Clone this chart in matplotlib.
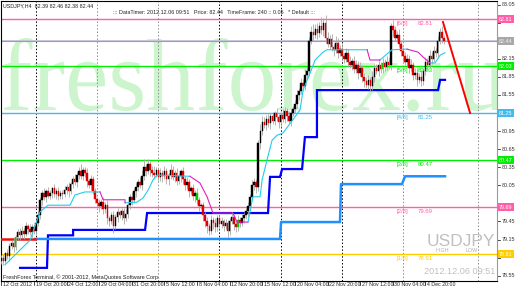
import matplotlib
matplotlib.use("Agg")
import matplotlib.pyplot as plt
import numpy as np
from matplotlib.textpath import TextPath
from matplotlib.patches import PathPatch
from matplotlib.font_manager import FontProperties
from matplotlib.transforms import Affine2D, blended_transform_factory

W, H = 519, 289
NARROW = ["Liberation Sans Narrow", "DejaVu Sans Condensed", "Liberation Sans"]

# ---- data (H4 USDJPY, 17 Oct - 6 Dec 2012) ----
FIRST_OPEN = 78.80
CLOSE = [
    78.85, 78.80, 78.92, 78.88, 79.05, 79.10, 79.02, 79.20, 79.28, 79.22,
    79.30, 79.25, 79.38, 79.32, 79.28, 79.35, 79.30, 79.42, 79.55, 79.80,
    79.92, 79.85, 79.95, 79.88, 79.93, 80.00, 79.90, 79.96, 79.87, 79.93,
    79.90, 79.97, 80.02, 79.95, 80.08, 80.15, 80.10, 80.22, 80.28, 80.20,
    80.30, 80.25, 80.12, 80.05, 80.15, 79.95, 79.82, 79.75, 79.70, 79.78,
    79.65, 79.72, 79.50, 79.45, 79.55, 79.38, 79.52, 79.60, 79.55, 79.62,
    79.50, 79.58, 79.72, 79.85, 79.80, 79.95, 80.02, 80.10, 80.05, 80.20,
    80.35, 80.28, 80.40, 80.30, 80.25, 80.22, 80.30, 80.18, 80.25, 80.20,
    80.28, 80.15, 80.22, 80.30, 80.18, 80.25, 80.12, 80.20, 80.28, 80.15,
    80.05, 80.10, 79.95, 80.00, 79.88, 79.92, 79.80, 79.70, 79.72, 79.55,
    79.45, 79.38, 79.30, 79.48, 79.42, 79.35, 79.50, 79.40, 79.45, 79.38,
    79.42, 79.30, 79.45, 79.52, 79.40, 79.35, 79.48, 79.42, 79.50, 79.55,
    79.62, 79.70, 79.85, 80.05, 80.10, 80.02, 80.75, 80.95, 81.10, 81.05,
    81.15, 81.08, 81.20, 81.12, 81.25, 81.18, 81.10, 81.22, 81.15, 81.28,
    81.20, 81.12, 81.25, 81.32, 81.40, 81.55, 81.62, 81.75, 81.70, 81.88,
    81.95, 82.45, 82.60, 82.55, 82.65, 82.58, 82.70, 82.62, 82.75, 82.50,
    82.40, 82.48, 82.35, 82.30, 82.42, 82.25, 82.32, 82.20, 82.15, 82.25,
    82.10, 82.05, 82.12, 81.98, 82.05, 81.92, 82.00, 81.85, 81.78, 81.72,
    81.80, 81.70, 81.85, 82.00, 81.95, 82.05, 81.98, 82.08, 82.02, 82.10,
    82.05, 82.70, 82.62, 82.50, 82.55, 82.40, 82.28, 82.20, 82.10, 82.15,
    82.00, 82.05, 81.88, 81.92, 81.80, 81.85, 81.78, 81.95, 82.10, 82.05,
    82.20, 82.15, 82.28, 82.25, 82.45, 82.60, 82.50, 82.44,
]
# wick lengths above / below the body, in pips (0.01)
UP_WICK = [
    4, 6, 3, 8, 5, 4, 7, 3, 5, 6,  8, 4, 6, 3, 9, 5, 4, 6, 8, 5,
    6, 9, 4, 7, 5, 3, 8, 4, 6, 5,  4, 7, 5, 8, 3, 6, 9, 5, 7, 12,
    6, 5, 8, 4, 7, 5, 6, 3, 8, 4,  7, 5, 9, 4, 6, 8, 5, 7, 4, 6,
    5, 8, 4, 6, 9, 5, 7, 6, 8, 10, 14, 6, 9, 5, 7, 12, 6, 4, 8, 5,
    9, 6, 4, 10, 7, 5, 8, 6, 4, 7, 5, 8, 6, 4, 7, 5, 9, 6, 4, 5,
    6, 8, 5, 7, 4, 9, 5, 6, 8, 4,  7, 5, 6, 9, 4, 6, 8, 5, 7, 6,
    5, 8, 6, 9, 7, 5, 6, 12, 10, 8, 6, 9, 5, 7, 4, 8, 6, 5, 9, 7,
    5, 8, 6, 4, 7, 9, 5, 8, 6, 10, 8, 6, 9, 12, 7, 10, 6, 14, 8, 12,
    9, 6, 8, 5, 10, 7, 6, 9, 5, 8, 6, 9, 5, 7, 8, 6, 9, 5, 7, 6,
    8, 5, 9, 6, 7, 10, 5, 8, 6, 9, 7, 5, 10, 8, 6, 9, 5, 7, 6, 8,
    6, 9, 5, 7, 8, 6, 9, 5, 8, 7,  9, 6, 8, 5, 7, 6, 9, 4,
]
DN_WICK = [
    5, 8, 4, 6, 9, 5, 7, 4, 6, 8,  5, 9, 4, 7, 6, 10, 5, 8, 4, 6,
    7, 5, 8, 4, 6, 9, 5, 7, 6, 4,  8, 5, 6, 9, 4, 7, 5, 8, 6, 5,
    7, 6, 9, 5, 8, 4, 7, 6, 9, 5,  8, 6, 10, 7, 5, 12, 6, 8, 5, 7,
    9, 5, 7, 6, 8, 4, 9, 6, 5, 7,  6, 8, 5, 9, 7, 6, 4, 8, 6, 9,
    5, 7, 9, 6, 4, 8, 6, 5, 9, 7,  8, 6, 9, 5, 7, 10, 6, 8, 5, 9,
    10, 12, 8, 6, 9, 7, 5, 8, 6, 9, 6, 10, 7, 5, 9, 8, 6, 7, 5, 8,
    6, 9, 7, 5, 8, 10, 6, 9, 7, 5, 8, 6, 9, 5, 7, 6, 10, 8, 5, 7,
    9, 6, 8, 5, 7, 6, 9, 5, 8, 6,  7, 9, 6, 8, 5, 10, 7, 6, 9, 8,
    6, 9, 7, 10, 5, 8, 6, 9, 7, 6, 8, 5, 9, 7, 6, 10, 5, 8, 9, 6,
    7, 9, 6, 8, 5, 9, 6, 7, 8, 5,  6, 8, 9, 5, 7, 6, 9, 8, 5, 7,
    8, 6, 9, 7, 10, 5, 8, 6, 7, 9, 6, 8, 5, 7, 9, 6, 8, 5,
]
GREEN_BARS = [7, 96, 116, 187]

# trailing-stop line: (bar, price) vertices, up-trend (cyan) / down-trend (magenta)
TRAIL_UP = [
    [(1.8, 78.73), (14.1, 79.14), (19.0, 79.61), (22.9, 79.72), (33.7, 79.72),
     (36.1, 79.89), (41.0, 79.94), (48.4, 79.94)],
    [(60.7, 79.76), (66.5, 79.77), (69.5, 79.84), (72.0, 79.97), (74.4, 80.14),
     (76.4, 80.22), (92.5, 80.20)],
    [(121.0, 79.44), (123.4, 79.86), (126.9, 79.86), (127.9, 80.14), (130.3, 80.47),
     (132.8, 80.80), (135.2, 80.88), (138.2, 80.92), (146.5, 81.30), (148.0, 81.63),
     (151.4, 81.91), (153.9, 82.13), (157.8, 82.26), (159.7, 82.30), (179.4, 82.30)],
    [(185.7, 82.13), (191.6, 82.30), (199.0, 82.31)],
    [(210.3, 82.08), (212.7, 82.08), (215.2, 82.21), (217.6, 82.25)],
]
TRAIL_DN = [
    [(48.4, 79.94), (49.9, 79.81), (60.7, 79.81), (60.7, 79.76)],
    [(92.5, 80.20), (97.4, 80.09), (100.9, 79.86), (103.8, 79.59), (113.6, 79.59),
     (115.6, 79.44), (121.0, 79.44)],
    [(179.4, 82.30), (180.8, 82.13), (185.7, 82.13)],
    [(199.0, 82.31), (204.4, 82.26), (206.8, 82.18), (210.3, 82.08)],
]
# support step lines
BLUE_STEP = [(9.2, 78.68), (22.4, 78.68), (22.9, 79.22), (35.2, 79.22), (35.2, 79.31),
             (70.5, 79.31), (71.5, 79.59), (130.8, 79.59), (131.8, 80.19), (136.7, 80.19),
             (137.7, 80.32), (147.5, 80.32), (148.9, 80.85), (154.8, 80.85),
             (154.8, 81.63), (214.2, 81.63), (215.2, 81.80), (217.6, 81.80)]
LBLUE_STEP = [(16.5, 79.16), (136.7, 79.16), (137.2, 79.44), (166.1, 79.44),
              (166.6, 80.07), (196.5, 80.07), (198.0, 80.20), (217.6, 80.20)]
RED_STEP = [(0.0, 79.16), (16.5, 79.16)]
FORECAST = [(216.6, 82.76), (229.9, 81.25)]

# Murrey levels
LEVELS = [82.81, 82.03, 81.25, 80.47, 79.69, 78.91]
LEVEL_NAMES = ["[6/8]", "[5/8]", "[4/8]", "[3/8]", "[2/8]", "[1/8]"]
LEVEL_COLORS = ["#ff5fa8", "#00ee00", "#44bbee", "#00ee00", "#ff5fa8", "#ffcc00"]
BID = 82.44

PRICE_TICKS = [83.05, 82.75, 82.45, 82.15, 81.85, 81.55, 81.25, 80.95, 80.65,
               80.35, 80.05, 79.75, 79.45, 79.15, 78.85, 78.55]
DATE_BARS = [0, 16, 32, 48, 64, 80, 96, 112, 128, 144, 160, 176, 192, 208]
DATE_LABELS = ["12 Oct 2012", "19 Oct 20:00", "24 Oct 12:00", "29 Oct 04:00",
               "31 Oct 20:00", "5 Nov 12:00", "8 Nov 04:00", "12 Nov 20:00",
               "15 Nov 12:00", "20 Nov 04:00", "22 Nov 20:00", "27 Nov 12:00",
               "30 Nov 04:00", "4 Dec 20:00"]
GRID_BARS = [17, 47, 77, 107, 137, 167, 197, 233.8]
GRID_DARK = [True, False, False, True, True, True, False, False]

# ---- figure ----
fig = plt.figure(figsize=(W / 100, H / 100), dpi=100)
fig.patch.set_facecolor("white")
ax = fig.add_axes([1 / W, (H - 281) / H, 496 / W, 280 / H])
ax.set_xlim(-0.15, 243.1)
ax.set_ylim(78.462, 83.109)
ax.set_xticks([])
ax.set_yticks([])
for s in ("left", "top", "bottom"):
    ax.spines[s].set_color("black")
    ax.spines[s].set_linewidth(0.8)
ax.spines["right"].set_color("#9a9a9a")
ax.spines["right"].set_linewidth(0.8)

# watermark
fp = FontProperties(family="Liberation Serif")
tp = TextPath((0, 0), "freshforex.ru", size=100, prop=fp)
bb = tp.get_extents()
# fit into pixel box x 3..505, baseline y 110 (from top), ascender top y 38
sx = (505 - 3) / bb.width
sy = (110 - 38) / (bb.y1)
tr = Affine2D().translate(-bb.x0, 0).scale(sx, sy).translate(3, H - 110)
wm = PathPatch(tr.transform_path(tp), facecolor="#cdf5cd", edgecolor="none",
               transform=None, zorder=0.5)
ax.add_artist(wm)

# grid separators
for gx, dark in zip(GRID_BARS, GRID_DARK):
    ax.axvline(gx, color="black" if dark else "#8c8c8c", lw=0.7,
               ls=(0, (1.5, 2)), zorder=1)

# level lines
for lv, col in zip(LEVELS, LEVEL_COLORS):
    ax.axhline(lv, color=col, lw=1.0, zorder=2)
ax.axhline(BID + 0.03, color="#c8c8e0", lw=0.7, zorder=2)
ax.axhline(BID, color="#a0a0a0", lw=0.8, zorder=2)

# step lines
bx, by = zip(*BLUE_STEP)
ax.plot(bx, by, color="#0000ff", lw=1.6, zorder=3, solid_joinstyle="miter")
lx, ly = zip(*LBLUE_STEP)
ax.plot(lx, ly, color="#1e90ff", lw=1.8, zorder=3)
rx, ry = zip(*RED_STEP)
ax.plot(rx, ry, color="#ee1111", lw=1.8, zorder=3)

# candles
close = np.array(CLOSE)
opn = np.r_[FIRST_OPEN, close[:-1]]
xb = np.arange(len(close))
high = np.maximum(opn, close) + np.array(UP_WICK) / 100
low = np.minimum(opn, close) - np.array(DN_WICK) / 100
ax.vlines(xb, low, high, color="#a8a8a8", lw=0.6, zorder=4)
cols = np.where(close >= opn, "black", "#e00000").astype(object)
cols[GREEN_BARS] = "#00cc00"
body_lo = np.minimum(opn, close)
body_h = np.maximum(np.abs(close - opn), 0.015)
ax.bar(xb, body_h, bottom=body_lo, width=0.75, color=list(cols),
       edgecolor=list(cols), linewidth=0.3, zorder=5)

# trailing line
for seg in TRAIL_UP:
    sx_, sy_ = zip(*seg)
    ax.plot(sx_, sy_, color="#22ccee", lw=0.8, zorder=6)
for seg in TRAIL_DN:
    sx_, sy_ = zip(*seg)
    ax.plot(sx_, sy_, color="#e020c0", lw=0.8, zorder=6)

fx, fy = zip(*FORECAST)
ax.plot(fx, fy, color="#ff0000", lw=1.4, zorder=7)

# level labels
for lv, name, col in zip(LEVELS, LEVEL_NAMES, LEVEL_COLORS):
    ax.text(194.0, lv - 0.03, name, color=col, fontsize=4.3, va="top",
            ha="left", zorder=8, family=NARROW)
    ax.text(204.4, lv - 0.03, f"{lv:.2f}", color=col, fontsize=4.3,
            va="top", ha="left", zorder=8, family=NARROW)

# right price scale
ty = blended_transform_factory(fig.transFigure, ax.transData)
boxed = LEVELS + [BID]
for p in PRICE_TICKS:
    ax.plot([497 / W, 500 / W], [p, p], color="black", lw=0.5,
            transform=ty, clip_on=False)
    if min(abs(p - b) for b in boxed) < 0.07:
        continue
    ax.text(502 / W, p, f"{p:.2f}", transform=ty, fontsize=3.9, va="center",
            ha="left", color="#333333", clip_on=False, family=NARROW)
for lv, col in zip(LEVELS, LEVEL_COLORS):
    ax.text(499 / W, lv, f"{lv:.2f}", transform=ty, fontsize=3.9, va="center",
            ha="left", color="white", clip_on=False, zorder=10, family=NARROW,
            bbox=dict(boxstyle="square,pad=0.25", fc=col, ec="none"))
ax.text(499 / W, BID, f"{BID:.2f}", transform=ty, fontsize=3.9, va="center",
        ha="left", color="#f0f0f0", clip_on=False, zorder=10, family=NARROW,
        bbox=dict(boxstyle="square,pad=0.25", fc="#a8a8a8", ec="none"))

# date scale
tx = blended_transform_factory(ax.transData, fig.transFigure)
for b, lab in zip(DATE_BARS, DATE_LABELS):
    ax.plot([b, b], [(H - 281) / H, (H - 285) / H], color="black", lw=0.5,
            transform=tx, clip_on=False)
    ax.text(b + 0.8, (H - 285) / H, lab, transform=tx, fontsize=3.8,
            va="center", ha="left", color="#222222", clip_on=False,
            family=NARROW)

# texts
fig.text(3 / W, 1 - 6 / H, "USDJPY,H4  82.39 82.46 82.38 82.44", fontsize=3.9,
         va="center", ha="left", color="#222222", family=NARROW)
fig.text(113 / W, 1 - 12 / H,
         "::: DataTimer: 2012.12.06 09:51   Price: 82.44   TimeFrame: 240 :: 0.05   "
         "* Default :::", fontsize=3.9, va="center", ha="left", color="#222222",
         family=NARROW)
fig.text(3 / W, 1 - 277 / H,
         "FreshForex Terminal, \u00a9 2001-2012, MetaQuotes Software Corp.",
         fontsize=4.0, va="center", ha="left", color="#222222", family=NARROW)
fig.text(427 / W, 1 - 246 / H, "USDJPY", fontsize=12.5, va="baseline", ha="left",
         color="#c0c0c0", family="Liberation Sans")
fig.text(435 / W, 1 - 251 / H, "HIGH", fontsize=3.9, va="center", ha="left",
         color="#b0b0b0", family=NARROW)
fig.text(466 / W, 1 - 251 / H, "LOW", fontsize=3.9, va="center", ha="left",
         color="#b0b0b0", family=NARROW)
fig.text(424 / W, 1 - 271 / H, "2012.12.06 09:51", fontsize=6.6, va="center",
         ha="left", color="#c0c0c0", family="Liberation Sans")

fig.savefig("out.png", dpi=100)
